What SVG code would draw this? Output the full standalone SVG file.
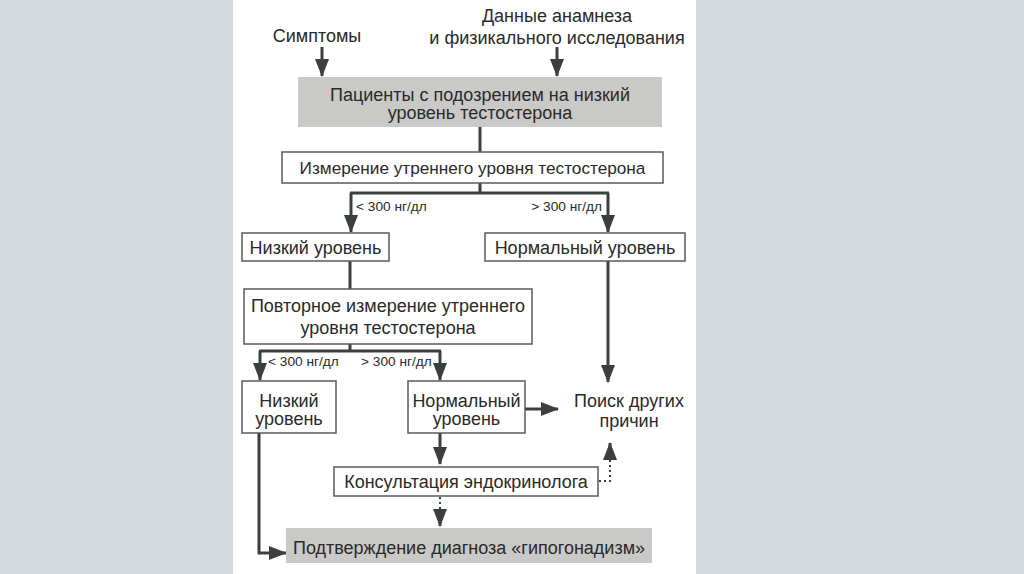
<svg xmlns="http://www.w3.org/2000/svg" width="1024" height="574" viewBox="0 0 1024 574">
<defs>
<style>
.t{font-family:"Liberation Sans","Noto Sans",Arial,sans-serif;font-size:18px;fill:#2a2a2a;text-anchor:middle}
.s{font-family:"Liberation Sans","Noto Sans",Arial,sans-serif;font-size:13.7px;fill:#2a2a2a}
.box{fill:#ffffff;stroke:#5a5a5a;stroke-width:1.5}
.gbox{fill:#c9c9c7;stroke:none}
.ln{fill:none;stroke:#3a403b;stroke-width:3}
.dot{fill:none;stroke:#3a403b;stroke-width:2;stroke-dasharray:2 3}
</style>
<marker id="ah" viewBox="0 0 18 14" markerWidth="18" markerHeight="14" refX="17" refY="7" orient="auto" markerUnits="userSpaceOnUse">
<path d="M0,0 L18,7 L0,14 z" fill="#3a403b"/>
</marker>
</defs>
<rect x="0" y="0" width="1024" height="574" fill="#d4dbde"/>
<rect x="233" y="0" width="463" height="574" fill="#ffffff"/>

<g id="connectors">
<path class="ln" d="M322,47 L322,76" marker-end="url(#ah)"/>
<path class="ln" d="M557,47 L557,76" marker-end="url(#ah)"/>
<path class="ln" d="M480,127 L480,152"/>
<path class="ln" d="M480,183 L480,193"/>
<path class="ln" d="M350,193 L609,193"/>
<path class="ln" d="M351,193 L351,232" marker-end="url(#ah)"/>
<path class="ln" d="M608,193 L608,232" marker-end="url(#ah)"/>
<path class="ln" d="M350,261 L350,289"/>
<path class="ln" d="M350,344 L350,351"/>
<path class="ln" d="M259,351 L441,351"/>
<path class="ln" d="M260,351 L260,380" marker-end="url(#ah)"/>
<path class="ln" d="M440,351 L440,380" marker-end="url(#ah)"/>
<path class="ln" d="M608,261 L608,382" marker-end="url(#ah)"/>
<path class="ln" d="M525,409 L558,409" marker-end="url(#ah)"/>
<path class="ln" d="M440,433 L440,464" marker-end="url(#ah)"/>
<path class="dot" d="M599,481 L610,481 L610,452"/>
<path class="ln" d="M610,452 L610,443" marker-end="url(#ah)" stroke-width="1"/>
<path class="dot" d="M440,497 L440,514"/>
<path class="ln" d="M440,514 L440,526" marker-end="url(#ah)" stroke-width="1"/>
<path class="ln" d="M259,433 L259,553 L286,553" marker-end="url(#ah)"/>
</g>

<g id="symptoms"><text class="t" x="317" y="42">Симптомы</text></g>
<g id="anamnesis"><text class="t" x="557" y="22">Данные анамнеза</text><text class="t" x="557" y="44">и физикального исследования</text></g>

<g id="suspected"><rect class="gbox" x="298" y="77" width="364" height="50"/><text class="t" x="480" y="101">Пациенты с подозрением на низкий</text><text class="t" x="480" y="119">уровень тестостерона</text></g>

<g id="measure"><rect class="box" x="282" y="152" width="381" height="31"/><text class="t" x="472.5" y="174" style="font-size:17.2px">Измерение утреннего уровня тестостерона</text></g>

<g id="labels1"><text class="s" x="356" y="211">&lt; 300 нг/дл</text><text class="s" x="602" y="211" text-anchor="end">&gt; 300 нг/дл</text></g>

<g id="low1"><rect class="box" x="242" y="233" width="147" height="28"/><text class="t" x="315.5" y="254">Низкий уровень</text></g>
<g id="normal1"><rect class="box" x="485" y="233" width="200" height="28"/><text class="t" x="585" y="254">Нормальный уровень</text></g>

<g id="repeat"><rect class="box" x="244" y="289" width="288" height="55"/><text class="t" x="388" y="312">Повторное измерение утреннего</text><text class="t" x="388" y="334">уровня тестостерона</text></g>

<g id="labels2"><text class="s" x="268" y="366">&lt; 300 нг/дл</text><text class="s" x="361" y="366">&gt; 300 нг/дл</text></g>

<g id="low2"><rect class="box" x="242" y="381" width="94" height="52"/><text class="t" x="289" y="407">Низкий</text><text class="t" x="289" y="425">уровень</text></g>
<g id="normal2"><rect class="box" x="408" y="381" width="117" height="52"/><text class="t" x="466.5" y="407">Нормальный</text><text class="t" x="466.5" y="425">уровень</text></g>

<g id="other"><text class="t" x="629" y="407">Поиск других</text><text class="t" x="629" y="427">причин</text></g>

<g id="endo"><rect class="box" x="334" y="467" width="264" height="29"/><text class="t" x="466" y="488">Консультация эндокринолога</text></g>

<g id="confirm"><rect class="gbox" x="286" y="528" width="366" height="35"/><text class="t" x="469" y="554">Подтверждение диагноза «гипогонадизм»</text></g>
</svg>
